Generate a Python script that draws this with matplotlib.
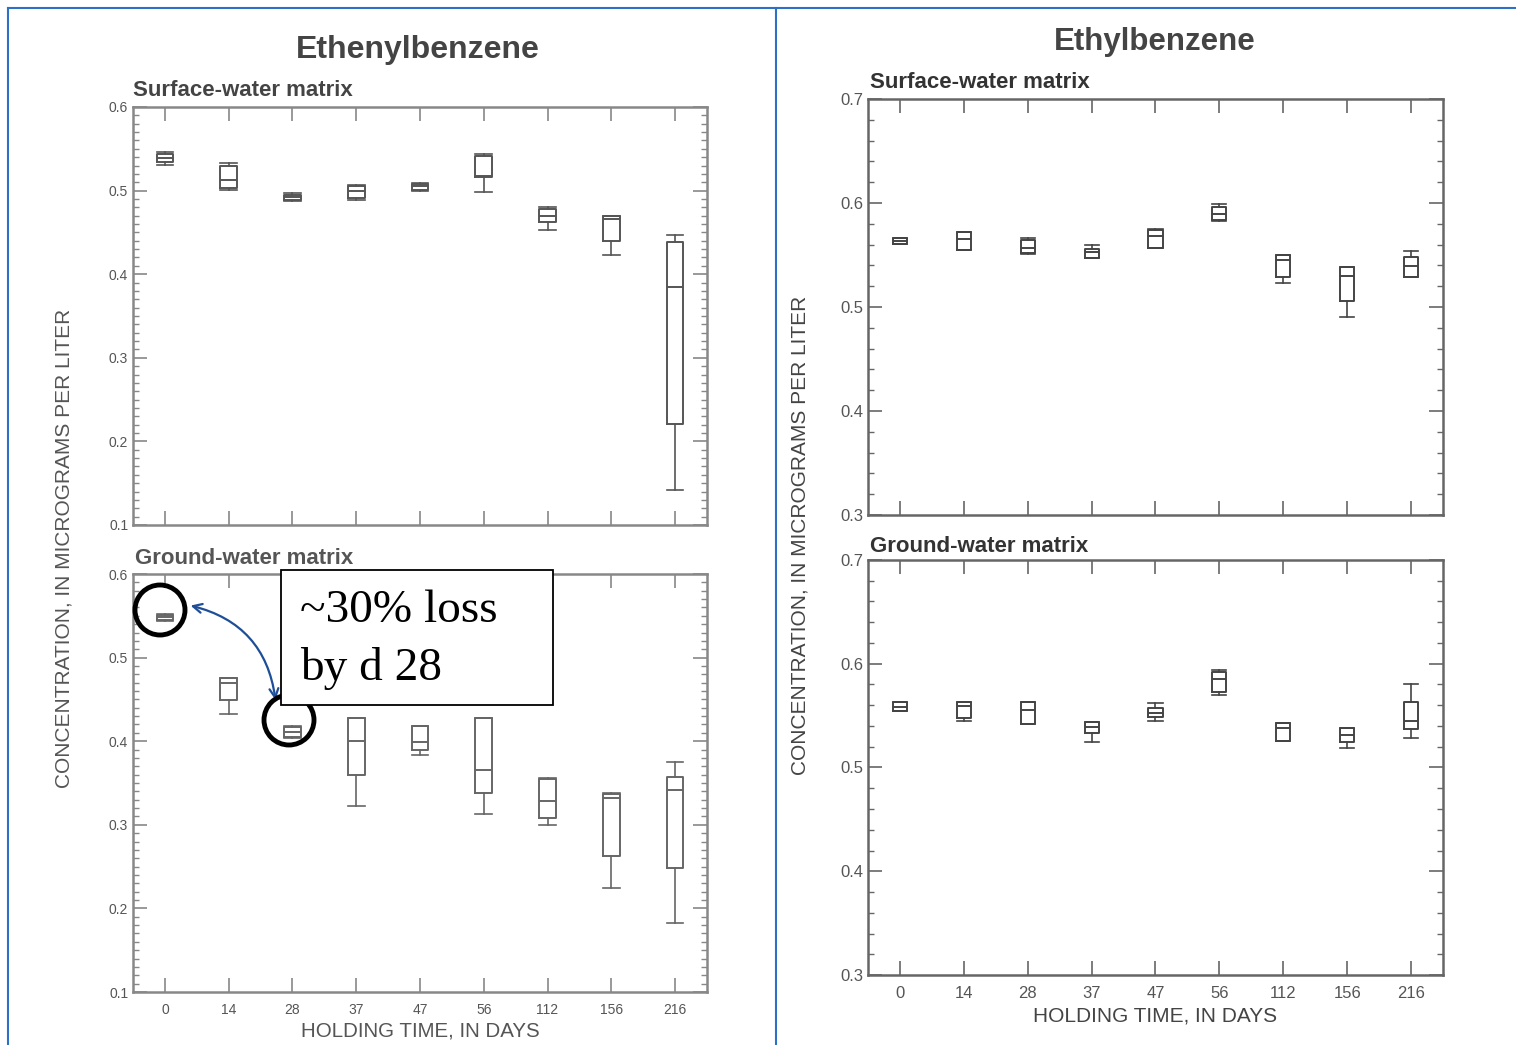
import matplotlib
matplotlib.use("Agg")
import matplotlib.pyplot as plt
from matplotlib.patches import Ellipse, Rectangle
from matplotlib.ticker import MultipleLocator

plt.rcParams['font.family'] = ['Liberation Sans', 'DejaVu Sans']

days = ['0', '14', '28', '37', '47', '56', '112', '156', '216']

# Ethenylbenzene, surface water: whisker low, q1, median, q3, whisker high
eth_sw_lo = [0.531, 0.501, 0.488, 0.489, 0.500, 0.498, 0.453, 0.423, 0.142]
eth_sw_q1 = [0.534, 0.503, 0.489, 0.491, 0.501, 0.516, 0.462, 0.440, 0.221]
eth_sw_med = [0.539, 0.513, 0.492, 0.500, 0.505, 0.518, 0.470, 0.466, 0.385]
eth_sw_q3 = [0.544, 0.530, 0.495, 0.505, 0.508, 0.541, 0.478, 0.470, 0.438]
eth_sw_hi = [0.546, 0.533, 0.497, 0.507, 0.509, 0.544, 0.480, 0.470, 0.447]

# Ethenylbenzene, ground water
eth_gw_lo = [0.544, 0.433, 0.404, 0.323, 0.383, 0.313, 0.300, 0.224, 0.182]
eth_gw_q1 = [0.545, 0.449, 0.405, 0.359, 0.389, 0.338, 0.308, 0.263, 0.248]
eth_gw_med = [0.548, 0.470, 0.411, 0.400, 0.399, 0.365, 0.328, 0.332, 0.342]
eth_gw_q3 = [0.551, 0.476, 0.417, 0.428, 0.418, 0.428, 0.355, 0.337, 0.357]
eth_gw_hi = [0.552, 0.476, 0.418, 0.428, 0.418, 0.428, 0.356, 0.338, 0.375]

# Ethylbenzene, surface water
ebz_sw_lo = [0.561, 0.555, 0.551, 0.547, 0.557, 0.583, 0.523, 0.490, 0.529]
ebz_sw_q1 = [0.561, 0.555, 0.552, 0.547, 0.557, 0.584, 0.529, 0.506, 0.529]
ebz_sw_med = [0.5635, 0.565, 0.557, 0.553, 0.568, 0.589, 0.545, 0.530, 0.539]
ebz_sw_q3 = [0.566, 0.572, 0.564, 0.556, 0.574, 0.596, 0.550, 0.538, 0.548]
ebz_sw_hi = [0.566, 0.572, 0.566, 0.560, 0.575, 0.599, 0.550, 0.538, 0.554]

# Ethylbenzene, ground water
ebz_gw_lo = [0.554, 0.545, 0.542, 0.525, 0.545, 0.570, 0.526, 0.519, 0.528]
ebz_gw_q1 = [0.554, 0.548, 0.542, 0.533, 0.549, 0.573, 0.526, 0.525, 0.537]
ebz_gw_med = [0.558, 0.559, 0.555, 0.539, 0.553, 0.585, 0.538, 0.531, 0.545]
ebz_gw_q3 = [0.563, 0.563, 0.563, 0.544, 0.557, 0.592, 0.543, 0.538, 0.563]
ebz_gw_hi = [0.563, 0.563, 0.563, 0.544, 0.562, 0.594, 0.543, 0.538, 0.580]

W, H = 1516, 1045
fig = plt.figure(figsize=(W / 100, H / 100), dpi=100)

def px_axes(x0, y0, x1, y1):
    return fig.add_axes([x0 / W, 1 - y1 / H, (x1 - x0) / W, (y1 - y0) / H])

def draw(ax, lo, q1, med, q3, hi, ylim, minor, bw, col, tickcol, labsize):
    stats = []
    for i in range(len(days)):
        stats.append(dict(whislo=lo[i], q1=q1[i], med=med[i], q3=q3[i], whishi=hi[i], fliers=[]))
    ax.bxp(stats, positions=range(1, len(days) + 1), widths=bw, showfliers=False,
           boxprops=dict(color=col, lw=1.4), medianprops=dict(color=col, lw=1.4),
           whiskerprops=dict(color=col, lw=1.2), capprops=dict(color=col, lw=1.2),
           capwidths=bw)
    ax.set_xlim(0.5, 9.5)
    ax.set_ylim(*ylim)
    ax.set_xticks(range(1, len(days) + 1))
    ax.set_xticklabels(days)
    ax.yaxis.set_major_locator(MultipleLocator(0.1))
    ax.yaxis.set_minor_locator(MultipleLocator(minor))
    ax.tick_params(which='both', direction='in', top=True, right=True, colors=tickcol,
                   labelcolor='#555555', labelsize=labsize)
    ax.tick_params(which='major', length=10, width=1.2)
    ax.tick_params(which='minor', length=4, width=1)
    ax.tick_params(axis='x', pad=8)
    for s in ax.spines.values():
        s.set_color(tickcol)
        s.set_linewidth(1.8)
    ax.set_facecolor('white')

# left panel: Ethenylbenzene
ax1 = px_axes(133, 107, 707, 525)
draw(ax1, eth_sw_lo, eth_sw_q1, eth_sw_med, eth_sw_q3, eth_sw_hi, (0.1, 0.6), 0.01, 0.26,
     '#555555', '#888888', 10)
ax1.set_xticklabels([])
ax2 = px_axes(133, 574, 707, 992)
draw(ax2, eth_gw_lo, eth_gw_q1, eth_gw_med, eth_gw_q3, eth_gw_hi, (0.1, 0.6), 0.01, 0.26,
     '#666666', '#888888', 10)

# right panel: Ethylbenzene
ax3 = px_axes(868, 99, 1443, 515)
draw(ax3, ebz_sw_lo, ebz_sw_q1, ebz_sw_med, ebz_sw_q3, ebz_sw_hi, (0.3, 0.7), 0.02, 0.22,
     '#444444', '#666666', 12)
ax3.set_xticklabels([])
ax4 = px_axes(868, 560, 1443, 975)
draw(ax4, ebz_gw_lo, ebz_gw_q1, ebz_gw_med, ebz_gw_q3, ebz_gw_hi, (0.3, 0.7), 0.02, 0.22,
     '#444444', '#666666', 12)

def ftext(x, y, s, **kw):
    fig.text(x / W, 1 - y / H, s, **kw)

ftext(418, 50, 'Ethenylbenzene', ha='center', va='center', fontsize=23, fontweight='bold', color='#444444')
ftext(1155, 42, 'Ethylbenzene', ha='center', va='center', fontsize=22.5, fontweight='bold', color='#444444')
ftext(133, 91, 'Surface-water matrix', ha='left', va='center', fontsize=16, fontweight='bold', color='#444444')
ftext(135, 559, 'Ground-water matrix', ha='left', va='center', fontsize=16, fontweight='bold', color='#555555')
ftext(870, 83, 'Surface-water matrix', ha='left', va='center', fontsize=16, fontweight='bold', color='#333333')
ftext(870, 547, 'Ground-water matrix', ha='left', va='center', fontsize=16, fontweight='bold', color='#333333')
ftext(64, 548, 'CONCENTRATION, IN MICROGRAMS PER LITER', ha='center', va='center', rotation=90,
      fontsize=15, color='#555555')
ftext(800, 535, 'CONCENTRATION, IN MICROGRAMS PER LITER', ha='center', va='center', rotation=90,
      fontsize=15, color='#444444')
ftext(420, 1031, 'HOLDING TIME, IN DAYS', ha='center', va='center', fontsize=14.8, color='#555555')
ftext(1155, 1016, 'HOLDING TIME, IN DAYS', ha='center', va='center', fontsize=15, color='#444444')

# circles and arrow highlighting the loss
for xc, yc in [(160, 610), (289, 720)]:
    fig.add_artist(Ellipse((xc / W, 1 - yc / H), 50 / W, 50 / H, transform=fig.transFigure,
                           fill=False, edgecolor='black', lw=3.5, zorder=10))
ax2.annotate('', xy=(1.36, 0.563), xytext=(2.74, 0.446),
             arrowprops=dict(arrowstyle='<->', color='#1f4e99', lw=1.6, mutation_scale=16,
                             connectionstyle='arc3,rad=0.35'), annotation_clip=False, zorder=11)

# annotation box
fig.add_artist(Rectangle((281 / W, 1 - 705 / H), 272 / W, 135 / H, transform=fig.transFigure,
                         facecolor='white', edgecolor='black', lw=1.3, zorder=12))
ftext(300, 611, '~30% loss', ha='left', va='center', fontsize=34, family='Liberation Serif',
      color='black', zorder=13)
ftext(300, 668, 'by d 28', ha='left', va='center', fontsize=34, family='Liberation Serif',
      color='black', zorder=13)

# blue frame lines
for xs, ys in [((8, 8), (8, H)), ((8, W), (8, 8)), ((776, 776), (8, H))]:
    fig.add_artist(plt.Line2D([x / W for x in xs], [1 - y / H for y in ys],
                              transform=fig.transFigure, color='#2e6fc7', lw=1.5))

fig.savefig('out.png', dpi=100)
